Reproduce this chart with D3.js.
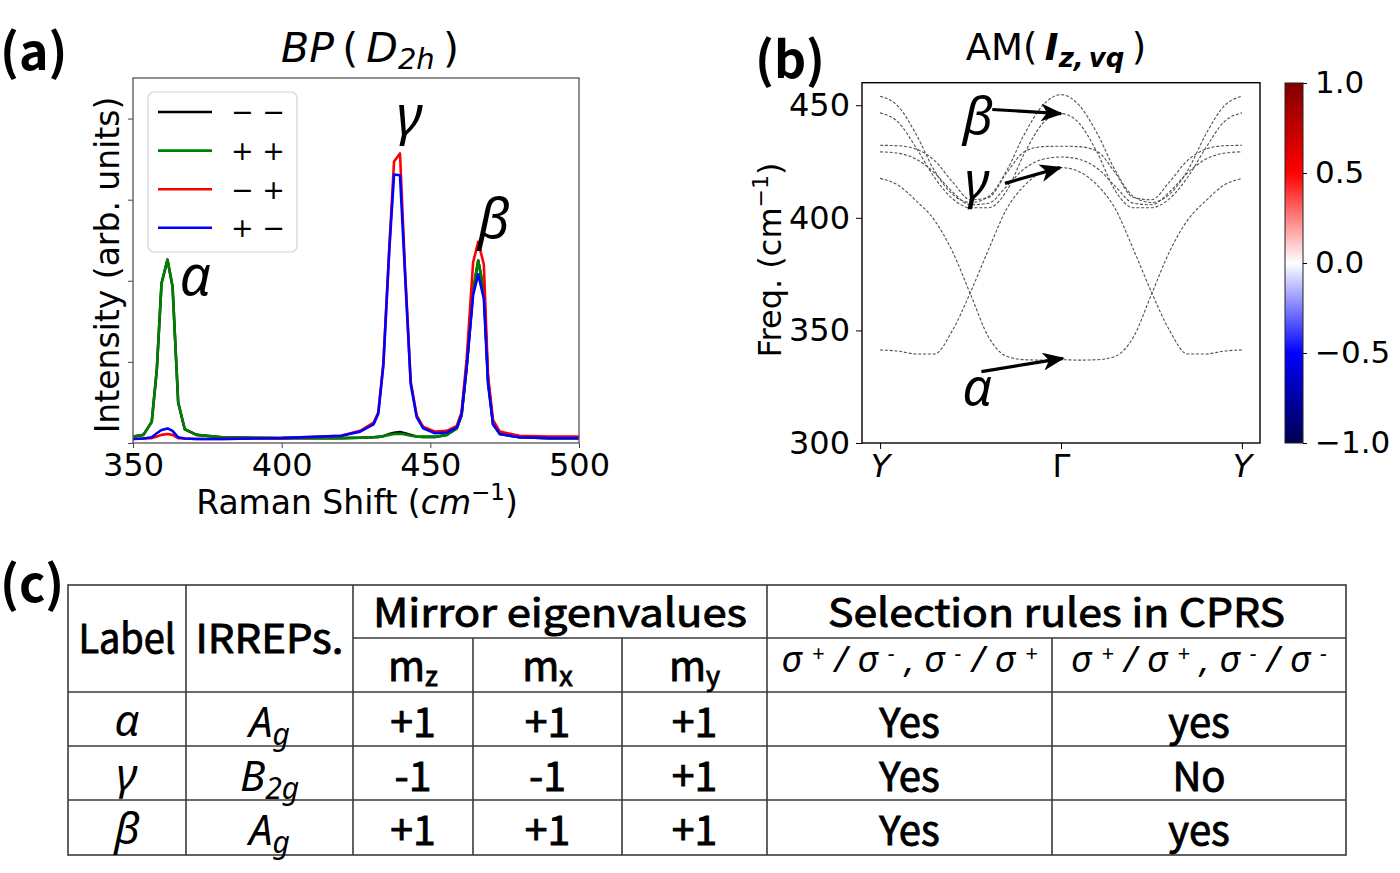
<!DOCTYPE html>
<html>
<head>
<meta charset="utf-8">
<script src="https://cdn.jsdelivr.net/npm/d3@7"></script>
<style>
  body { margin: 0; background: #fff; }
  svg text { font-family: "DejaVu Sans", sans-serif; }
</style>
</head>
<body>
<div id="chart"></div>
<script>
// ---------- (a) Raman spectra ----------
const shift = [350, 353.5, 356.3, 358, 359.6, 361.6, 363.3, 365.2, 367.4, 371.4, 380, 400, 420,
  426.4, 430.9, 432.5, 434.2, 436.2, 437.8, 439.8, 441.5, 443.4, 445.4, 447.6, 451.6, 455.5,
  458.9, 460.5, 462.2, 464.4, 466.1, 468, 469.4, 471.1, 473.4, 480, 490, 500];
const intMM = [0.08, 0.10, 0.26, 0.9, 1.97, 2.26, 1.93, 0.5, 0.17, 0.1, 0.07, 0.06, 0.06,
  0.065, 0.07, 0.075, 0.085, 0.11, 0.125, 0.135, 0.12, 0.1, 0.08, 0.075, 0.075, 0.1,
  0.18, 0.34, 0.93, 1.88, 2.25, 1.88, 0.78, 0.23, 0.11, 0.07, 0.06, 0.06];
const intPP = [0.08, 0.10, 0.26, 0.9, 1.97, 2.26, 1.93, 0.5, 0.17, 0.1, 0.07, 0.06, 0.06,
  0.065, 0.07, 0.075, 0.085, 0.1, 0.11, 0.115, 0.105, 0.09, 0.08, 0.075, 0.075, 0.1,
  0.18, 0.34, 0.93, 1.88, 2.25, 1.88, 0.78, 0.23, 0.11, 0.07, 0.06, 0.06];
const intMP = [0.05, 0.055, 0.06, 0.08, 0.1, 0.11, 0.1, 0.06, 0.055, 0.05, 0.05, 0.06, 0.09,
  0.15, 0.25, 0.38, 0.98, 2.41, 3.47, 3.57, 2.12, 0.76, 0.34, 0.2, 0.14, 0.15,
  0.21, 0.38, 1.03, 2.23, 2.48, 2.2, 0.83, 0.28, 0.14, 0.09, 0.08, 0.08];
const intPM = [0.05, 0.055, 0.07, 0.12, 0.16, 0.18, 0.15, 0.07, 0.055, 0.05, 0.05, 0.06, 0.09,
  0.14, 0.23, 0.36, 0.96, 2.38, 3.31, 3.3, 2.08, 0.73, 0.32, 0.18, 0.12, 0.13,
  0.19, 0.35, 0.93, 1.83, 2.08, 1.78, 0.73, 0.23, 0.11, 0.07, 0.06, 0.06];
const legendLabels = ["\u2212 \u2212", "+ +", "\u2212 +", "+ \u2212"];
const ramanTicks = [350, 400, 450, 500];
const intensityTicks = [0, 1, 2, 3, 4];
const peakNames = ["\u03b1", "\u03b3", "\u03b2"];
const peakShift = [370.9, 443, 471.3];
const peakInt = [1.82, 3.8, 2.53];

// ---------- (b) phonon bands along Y - Gamma - Y ----------
const kPath = [0, 0.1, 0.2, 0.3, 0.4, 0.5, 0.6, 0.7, 0.8, 0.9, 1.0,
  1.1, 1.2, 1.3, 1.4, 1.5, 1.6, 1.7, 1.8, 1.9, 2.0];
const band1 = [454, 449.5, 437, 421, 410.5, 406.8, 409.5, 421, 437.5, 450, 454.7,
  450, 437.5, 421, 409.5, 406.8, 410.5, 421, 437, 449.5, 454];
const band2 = [446.6, 442.5, 431, 418, 408.5, 404.5, 404.5, 412, 429, 442, 446.3,
  442, 429, 412, 404.5, 404.5, 408.5, 418, 431, 442.5, 446.6];
const band3 = [432.2, 432, 430.5, 425.5, 416, 408, 409, 420, 429.5, 431.6, 431.8,
  431.6, 429.5, 420, 409, 408, 416, 425.5, 430.5, 432, 432.2];
const band4 = [429.3, 428.7, 426, 420, 411.5, 405.8, 406.5, 414, 422, 426, 427,
  426, 422, 414, 406.5, 405.8, 411.5, 420, 426, 428.7, 429.3];
const band5 = [417.5, 414.5, 407.5, 399, 385, 366, 347, 338.5, 337, 336.8, 337,
  336.8, 337, 338.5, 347, 366, 385, 399, 407.5, 414.5, 417.5];
const band6 = [341.3, 340.8, 339.5, 339.5, 350, 367, 386, 404, 414.5, 420.5, 422.3,
  420.5, 414.5, 404, 386, 367, 350, 339.5, 339.5, 340.8, 341.3];
const kTicks = [0, 1, 2];
const kTickLabels = ["Y", "\u0393", "Y"];
const freqTicks = [300, 350, 400, 450];
const modeNames = ["\u03b2", "\u03b3", "\u03b1"];
const modeLabelAt = [[0.54, 437], [0.536, 408.5], [0.536, 316.9]];
const arrowFrom = [[0.62, 448.1], [0.69, 415.3], [0.56, 331.7]];
const arrowTo = [[1.0, 446.3], [0.995, 422.3], [1.01, 337.6]];
const cbTicks = [-1, -0.5, 0, 0.5, 1];

// ---------- (c) table ----------
const rowLabels = ["\u03b1", "\u03b3", "\u03b2"];
const irrepMain = ["A", "B", "A"];
const irrepSub = ["g", "2g", "g"];
const mzVals = ["+1", "-1", "+1"];
const mxVals = ["+1", "-1", "+1"];
const myVals = ["+1", "+1", "+1"];
const crossRule = ["Yes", "Yes", "Yes"];
const sameRule = ["yes", "No", "yes"];

const svg = d3.select("#chart").append("svg")
  .attr("width", 1400).attr("height", 873)
  .style("background", "#fff");
const defs = svg.append("defs");

// ================= panel (a) =================
const xA = d3.scaleLinear().domain([350, 500]).range([133, 579]);
const yA = d3.scaleLinear().domain([0, 4.5]).range([443, 78]);
const gA = svg.append("g");

defs.append("clipPath").attr("id", "clipA").append("rect")
  .attr("x", 133).attr("y", 78).attr("width", 446).attr("height", 365);

const series = [
  { name: legendLabels[0], values: intMM, color: "#000000" },
  { name: legendLabels[1], values: intPP, color: "#008000" },
  { name: legendLabels[2], values: intMP, color: "#ff0000" },
  { name: legendLabels[3], values: intPM, color: "#0000ff" }
];

const lineA = d3.line()
  .x((d, i) => xA(shift[i]))
  .y(d => yA(d));

gA.append("g").attr("clip-path", "url(#clipA)")
  .selectAll("path").data(series).join("path")
  .attr("d", d => lineA(d.values))
  .attr("fill", "none")
  .attr("stroke", d => d.color)
  .attr("stroke-width", 2.6)
  .attr("stroke-linejoin", "round");

// axes
const axAx = gA.append("g").attr("transform", "translate(0,443)")
  .call(d3.axisBottom(xA).tickValues(ramanTicks).tickSize(5).tickPadding(5).tickSizeOuter(0));
axAx.select(".domain").remove();
axAx.attr("font-size", 32).attr("font-family", "DejaVu Sans");
axAx.selectAll("line").attr("stroke", "#444");
axAx.selectAll("text").attr("fill", "#000");

const axAy = gA.append("g").attr("transform", "translate(133,0)")
  .call(d3.axisLeft(yA).tickValues(intensityTicks).tickSize(5).tickFormat("").tickSizeOuter(0));
axAy.select(".domain").remove();
axAy.selectAll("line").attr("stroke", "#444");

gA.append("rect").attr("x", 133).attr("y", 78).attr("width", 446).attr("height", 365)
  .attr("fill", "none").attr("stroke", "#555").attr("stroke-width", 1.3);

// legend
const leg = gA.append("g");
leg.append("rect").attr("x", 148).attr("y", 92).attr("width", 149).attr("height", 160)
  .attr("rx", 6).attr("fill", "#fff").attr("fill-opacity", 0.85)
  .attr("stroke", "#d4d4d4").attr("stroke-width", 1.2);
series.forEach((s, i) => {
  const y = 112 + i * 38.6;
  leg.append("line").attr("x1", 158).attr("x2", 212).attr("y1", y).attr("y2", y)
    .attr("stroke", s.color).attr("stroke-width", 2.6);
  leg.append("text").attr("x", 231).attr("y", y).attr("dy", "0.35em")
    .attr("font-size", 27).text(s.name);
});

// peak labels
gA.selectAll("text.peak").data(peakNames).join("text").attr("class", "peak")
  .attr("x", (d, i) => xA(peakShift[i])).attr("y", (d, i) => yA(peakInt[i]))
  .attr("text-anchor", "middle")
  .style("font-family", "'Noto Sans', sans-serif").style("font-style", "italic")
  .attr("font-size", 55).text(d => d);

// titles
gA.append("text").attr("x", 0).attr("y", 70)
  .style("font-family", "'Noto Sans CJK SC', sans-serif").attr("font-weight", "bold")
  .attr("font-size", 50).text("(a)");

const tA = gA.append("text").attr("x", 370).attr("y", 62).attr("text-anchor", "middle").attr("font-size", 41);
tA.append("tspan").attr("font-style", "italic").text("BP");
tA.append("tspan").text("\u2009(\u2009");
tA.append("tspan").attr("font-style", "italic").text("D");
tA.append("tspan").attr("font-style", "italic").attr("font-size", 29).attr("dy", 7).text("2h");
tA.append("tspan").attr("dy", -7).text("\u2009)");

const xlA = gA.append("text").attr("x", 357).attr("y", 514).attr("text-anchor", "middle").attr("font-size", 33);
xlA.append("tspan").text("Raman Shift (");
xlA.append("tspan").attr("font-style", "italic").text("cm");
xlA.append("tspan").attr("font-size", 23).attr("dy", -14).text("\u22121");
xlA.append("tspan").attr("dy", 14).text(")");

gA.append("text").attr("transform", "translate(119,265) rotate(-90)")
  .attr("text-anchor", "middle").attr("font-size", 33).text("Intensity (arb. units)");

// ================= panel (b) =================
const xB = d3.scaleLinear().domain([-0.1, 2.1]).range([862, 1260]);
const yB = d3.scaleLinear().domain([300, 460]).range([443, 82.7]);
const gB = svg.append("g");

defs.append("clipPath").attr("id", "clipB").append("rect")
  .attr("x", 862).attr("y", 82.7).attr("width", 398).attr("height", 360.3);

const bands = [band1, band2, band3, band4, band5, band6];
const lineB = d3.line()
  .x((d, i) => xB(kPath[i]))
  .y(d => yB(d))
  .curve(d3.curveMonotoneX);

gB.append("g").attr("clip-path", "url(#clipB)")
  .selectAll("path").data(bands).join("path")
  .attr("d", d => lineB(d))
  .attr("fill", "none")
  .attr("stroke", "#505050")
  .attr("stroke-width", 1.1)
  .attr("stroke-dasharray", "3,1.8");

const axBx = gB.append("g").attr("transform", "translate(0,443)")
  .call(d3.axisBottom(xB).tickValues(kTicks).tickSize(6).tickPadding(5).tickSizeOuter(0)
    .tickFormat((d, i) => kTickLabels[i]));
axBx.select(".domain").remove();
axBx.attr("font-size", 32).attr("font-family", "DejaVu Sans");
axBx.selectAll("line").attr("stroke", "#000");
axBx.selectAll("text").attr("fill", "#000")
  .attr("font-style", (d, i) => kTickLabels[i] === "Y" ? "italic" : "normal");

const axBy = gB.append("g").attr("transform", "translate(862,0)")
  .call(d3.axisLeft(yB).tickValues(freqTicks).tickSize(6).tickPadding(6).tickSizeOuter(0));
axBy.select(".domain").remove();
axBy.attr("font-size", 32).attr("font-family", "DejaVu Sans");
axBy.selectAll("line").attr("stroke", "#000");
axBy.selectAll("text").attr("fill", "#000");

gB.append("rect").attr("x", 862).attr("y", 82.7).attr("width", 398).attr("height", 360.3)
  .attr("fill", "none").attr("stroke", "#000").attr("stroke-width", 1.4);

// arrows + labels
defs.append("marker").attr("id", "arrowHead")
  .attr("viewBox", "0 0 22 18").attr("refX", 20).attr("refY", 9)
  .attr("markerWidth", 22).attr("markerHeight", 18)
  .attr("markerUnits", "userSpaceOnUse").attr("orient", "auto")
  .append("path").attr("d", "M0,0 L22,9 L0,18 L6,9 Z").attr("fill", "#000");

gB.selectAll("line.arrow").data(arrowFrom).join("line").attr("class", "arrow")
  .attr("x1", d => xB(d[0])).attr("y1", d => yB(d[1]))
  .attr("x2", (d, i) => xB(arrowTo[i][0])).attr("y2", (d, i) => yB(arrowTo[i][1]))
  .attr("stroke", "#000").attr("stroke-width", 3.2)
  .attr("marker-end", "url(#arrowHead)");

gB.selectAll("text.mode").data(modeNames).join("text").attr("class", "mode")
  .attr("x", (d, i) => xB(modeLabelAt[i][0])).attr("y", (d, i) => yB(modeLabelAt[i][1]))
  .attr("text-anchor", "middle")
  .style("font-family", "'Noto Sans', sans-serif").style("font-style", "italic")
  .attr("font-size", 52).text(d => d);

gB.append("text").attr("x", 755).attr("y", 78)
  .style("font-family", "'Noto Sans CJK SC', sans-serif").attr("font-weight", "bold")
  .attr("font-size", 50).text("(b)");

const tB = gB.append("text").attr("x", 1056).attr("y", 60).attr("text-anchor", "middle").attr("font-size", 37);
tB.append("tspan").text("AM(\u2009");
tB.append("tspan").attr("font-weight", "bold").attr("font-style", "italic").text("I");
tB.append("tspan").attr("font-weight", "bold").attr("font-style", "italic")
  .attr("font-size", 26).attr("dy", 7).text("z,\u2009vq");
tB.append("tspan").attr("dy", -7).text("\u2009)");

const ylB = gB.append("text").attr("transform", "translate(781,260) rotate(-90)")
  .attr("text-anchor", "middle").attr("font-size", 32);
ylB.append("tspan").text("Freq. (cm");
ylB.append("tspan").attr("font-size", 22).attr("dy", -13).text("\u22121");
ylB.append("tspan").attr("dy", 13).text(")");

// colorbar
const cbScale = d3.scaleLinear().domain([-1, 1]).range([443, 83]);
const seismic = d3.scaleLinear().domain([-1, -0.5, 0, 0.5, 1])
  .range(["#00004d", "#0000ff", "#ffffff", "#ff0000", "#800000"]);
const grad = defs.append("linearGradient").attr("id", "cbGrad")
  .attr("x1", 0).attr("y1", 1).attr("x2", 0).attr("y2", 0);
d3.range(0, 1.0001, 0.05).forEach(t => {
  grad.append("stop").attr("offset", t).attr("stop-color", seismic(t * 2 - 1));
});
gB.append("rect").attr("x", 1285).attr("y", 83).attr("width", 18).attr("height", 360)
  .attr("fill", "url(#cbGrad)").attr("stroke", "#222").attr("stroke-width", 1);
const axCb = gB.append("g").attr("transform", "translate(1303,0)")
  .call(d3.axisRight(cbScale).tickValues(cbTicks).tickSize(4).tickPadding(8)
    .tickFormat(d3.format(".1f")).tickSizeOuter(0));
axCb.select(".domain").remove();
axCb.attr("font-size", 31).attr("font-family", "DejaVu Sans");
axCb.selectAll("line").attr("stroke", "#000");
axCb.selectAll("text").attr("fill", "#000");

// ================= panel (c) table =================
const gC = svg.append("g");
gC.append("text").attr("x", 0).attr("y", 602)
  .style("font-family", "'Noto Sans CJK SC', sans-serif").attr("font-weight", "bold")
  .attr("font-size", 50).text("(c)");

const cx = [68, 186, 353, 473, 622, 767, 1052, 1346];
const ry = [585, 638, 692, 746, 800, 855];
const ink = "#3a3a3a";
gC.append("rect").attr("x", cx[0]).attr("y", ry[0]).attr("width", cx[7] - cx[0]).attr("height", ry[5] - ry[0])
  .attr("fill", "none").attr("stroke", ink).attr("stroke-width", 1.6);
[[1, 0], [2, 0], [5, 0], [3, 1], [4, 1], [6, 1]].forEach(([c, r]) => {
  gC.append("line").attr("x1", cx[c]).attr("x2", cx[c]).attr("y1", ry[r]).attr("y2", ry[5])
    .attr("stroke", ink).attr("stroke-width", 1.6);
});
gC.append("line").attr("x1", cx[2]).attr("x2", cx[7]).attr("y1", ry[1]).attr("y2", ry[1])
  .attr("stroke", ink).attr("stroke-width", 1.6);
[2, 3, 4].forEach(r => {
  gC.append("line").attr("x1", cx[0]).attr("x2", cx[7]).attr("y1", ry[r]).attr("y2", ry[r])
    .attr("stroke", ink).attr("stroke-width", 1.6);
});

const mid = c => (cx[c] + cx[c + 1]) / 2;
const cjk = "'Noto Sans CJK SC', sans-serif";
function cell(x, y, txt, size, len) {
  const t = gC.append("text").attr("x", x).attr("y", y).attr("text-anchor", "middle")
    .style("font-family", cjk).attr("font-size", size)
    .attr("stroke", "#000").attr("stroke-width", 0.9).text(txt);
  if (len) t.attr("textLength", len).attr("lengthAdjust", "spacingAndGlyphs");
  return t;
}
cell(mid(0), 653, "Label", 40, 97);
cell(mid(1), 653, "IRREPs.", 40, 148);
cell((cx[2] + cx[5]) / 2, 627, "Mirror eigenvalues", 39, 374);
cell((cx[5] + cx[7]) / 2, 627, "Selection rules in CPRS", 39, 457);

["z", "x", "y"].forEach((s, i) => {
  const t = gC.append("text").attr("x", mid(2 + i)).attr("y", 681).attr("text-anchor", "middle")
    .style("font-family", cjk).attr("font-size", 40)
    .attr("stroke", "#000").attr("stroke-width", 0.9);
  t.append("tspan").text("m");
  t.append("tspan").attr("font-size", 27).attr("dy", 5).text(s);
});

function sigmaText(x, signs) {
  const t = gC.append("text").attr("x", x).attr("y", 672).attr("text-anchor", "middle")
    .style("font-family", "'Noto Sans', sans-serif").style("font-style", "italic")
    .attr("font-size", 36).attr("textLength", 256).attr("lengthAdjust", "spacing");
  const seps = ["", "/", ",", "/"];
  signs.forEach((sg, i) => {
    t.append("tspan").attr("dy", i === 0 ? 0 : 11).text(seps[i] + "\u03c3");
    t.append("tspan").attr("font-size", 22).attr("dy", -11).text(sg);
  });
}
sigmaText(mid(5), ["+", "\u2212", "\u2212", "+"]);
sigmaText(mid(6), ["+", "+", "\u2212", "\u2212"]);

const rowBase = [737, 791, 845];
rowLabels.forEach((lab, r) => {
  const y = rowBase[r];
  gC.append("text").attr("x", mid(0)).attr("y", y - 1).attr("text-anchor", "middle")
    .style("font-family", "'Noto Sans', sans-serif").style("font-style", "italic")
    .attr("font-size", 44).text(lab);
  const ir = gC.append("text").attr("x", mid(1)).attr("y", y).attr("text-anchor", "middle")
    .style("font-family", "'Noto Sans', sans-serif").style("font-style", "italic").attr("font-size", 42);
  ir.append("tspan").text(irrepMain[r]);
  ir.append("tspan").attr("font-size", 30).attr("dy", 8).text(irrepSub[r]);
  cell(mid(2), y, mzVals[r], 41);
  cell(mid(3), y, mxVals[r], 41);
  cell(mid(4), y, myVals[r], 41);
  cell(mid(5), y, crossRule[r], 40);
  cell(mid(6), y, sameRule[r], 40);
});
</script>
</body>
</html>
